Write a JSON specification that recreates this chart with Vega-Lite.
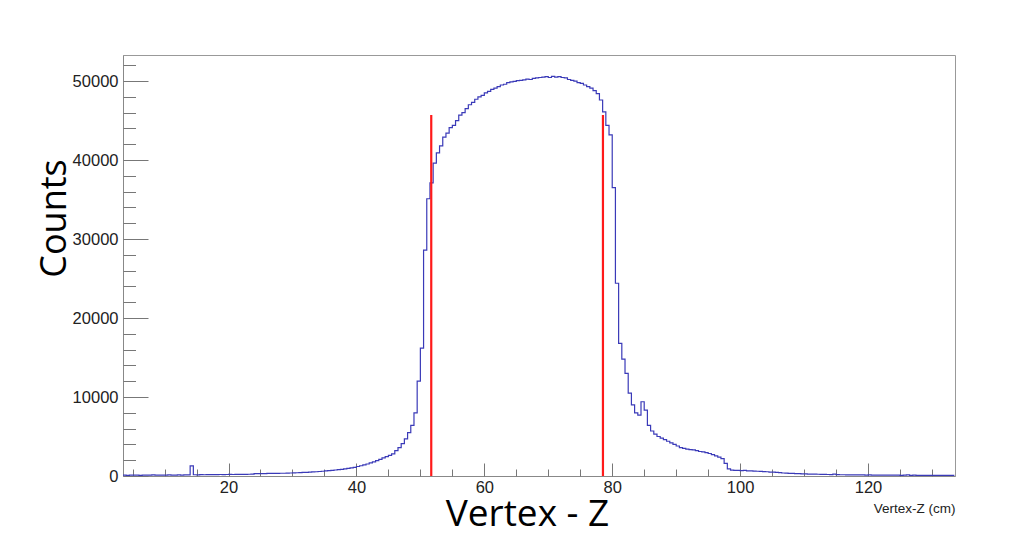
{
  "$schema": "https://vega.github.io/schema/vega-lite/v6.json",
  "width": 832,
  "height": 421,
  "autosize": {"type": "none"},
  "padding": {"left": 123, "top": 55, "right": 74, "bottom": 71},
  "background": "#ffffff",
  "config": {
    "view": {"stroke": "#999999", "strokeWidth": 1},
    "axis": {"grid": false, "tickColor": "#777777", "tickWidth": 1, "domainColor": "#888888", "labelFont": "Liberation Sans", "labelColor": "#222222"}
  },
  "datasets": {
    "hist": [
      {"z":3.5,"n":110},{"z":4.0,"n":90},{"z":4.5,"n":120},{"z":5.0,"n":100},{"z":5.5,"n":110},{"z":6.0,"n":90},{"z":6.5,"n":120},{"z":7.0,"n":100},{"z":7.5,"n":110},{"z":8.0,"n":130},{"z":8.5,"n":100},{"z":9.0,"n":110},{"z":9.5,"n":120},{"z":10.0,"n":100},{"z":10.5,"n":130},{"z":11.0,"n":110},{"z":11.5,"n":120},{"z":12.0,"n":140},{"z":12.5,"n":120},{"z":13.0,"n":130},{"z":13.5,"n":150},{"z":14.0,"n":1280},{"z":14.5,"n":160},{"z":15.0,"n":150},{"z":15.5,"n":170},{"z":16.0,"n":160},{"z":16.5,"n":170},{"z":17.0,"n":180},{"z":17.5,"n":170},{"z":18.0,"n":180},{"z":18.5,"n":190},{"z":19.0,"n":180},{"z":19.5,"n":190},{"z":20.0,"n":200},{"z":20.5,"n":190},{"z":21.0,"n":200},{"z":21.5,"n":210},{"z":22.0,"n":200},{"z":22.5,"n":210},{"z":23.0,"n":220},{"z":23.5,"n":230},{"z":24.0,"n":290},{"z":24.5,"n":300},{"z":25.0,"n":300},{"z":25.5,"n":310},{"z":26.0,"n":320},{"z":26.5,"n":320},{"z":27.0,"n":330},{"z":27.5,"n":340},{"z":28.0,"n":350},{"z":28.5,"n":350},{"z":29.0,"n":360},{"z":29.5,"n":380},{"z":30.0,"n":400},{"z":30.5,"n":410},{"z":31.0,"n":430},{"z":31.5,"n":450},{"z":32.0,"n":470},{"z":32.5,"n":490},{"z":33.0,"n":520},{"z":33.5,"n":540},{"z":34.0,"n":570},{"z":34.5,"n":600},{"z":35.0,"n":640},{"z":35.5,"n":680},{"z":36.0,"n":720},{"z":36.5,"n":760},{"z":37.0,"n":800},{"z":37.5,"n":850},{"z":38.0,"n":900},{"z":38.5,"n":960},{"z":39.0,"n":1030},{"z":39.5,"n":1100},{"z":40.0,"n":1200},{"z":40.5,"n":1300},{"z":41.0,"n":1400},{"z":41.5,"n":1520},{"z":42.0,"n":1650},{"z":42.5,"n":1800},{"z":43.0,"n":1950},{"z":43.5,"n":2100},{"z":44.0,"n":2300},{"z":44.5,"n":2450},{"z":45.0,"n":2600},{"z":45.5,"n":2800},{"z":46.0,"n":3200},{"z":46.5,"n":3600},{"z":47.0,"n":4100},{"z":47.5,"n":4700},{"z":48.0,"n":5500},{"z":48.5,"n":6400},{"z":49.0,"n":8000},{"z":49.5,"n":12000},{"z":50.0,"n":16200},{"z":50.5,"n":28600},{"z":51.0,"n":35100},{"z":51.5,"n":37100},{"z":52.0,"n":39600},{"z":52.5,"n":40900},{"z":53.0,"n":41800},{"z":53.5,"n":42900},{"z":54.0,"n":43400},{"z":54.5,"n":44100},{"z":55.0,"n":44400},{"z":55.5,"n":45000},{"z":56.0,"n":45700},{"z":56.5,"n":46000},{"z":57.0,"n":46500},{"z":57.5,"n":47000},{"z":58.0,"n":47300},{"z":58.5,"n":47700},{"z":59.0,"n":48000},{"z":59.5,"n":48200},{"z":60.0,"n":48500},{"z":60.5,"n":48700},{"z":61.0,"n":48950},{"z":61.5,"n":49100},{"z":62.0,"n":49300},{"z":62.5,"n":49500},{"z":63.0,"n":49600},{"z":63.5,"n":49800},{"z":64.0,"n":49900},{"z":64.5,"n":49950},{"z":65.0,"n":50050},{"z":65.5,"n":50100},{"z":66.0,"n":50150},{"z":66.5,"n":50250},{"z":67.0,"n":50200},{"z":67.5,"n":50350},{"z":68.0,"n":50400},{"z":68.5,"n":50450},{"z":69.0,"n":50500},{"z":69.5,"n":50550},{"z":70.0,"n":50450},{"z":70.5,"n":50600},{"z":71.0,"n":50500},{"z":71.5,"n":50550},{"z":72.0,"n":50450},{"z":72.5,"n":50400},{"z":73.0,"n":50200},{"z":73.5,"n":50100},{"z":74.0,"n":50000},{"z":74.5,"n":49800},{"z":75.0,"n":49700},{"z":75.5,"n":49500},{"z":76.0,"n":49300},{"z":76.5,"n":49100},{"z":77.0,"n":48800},{"z":77.5,"n":48400},{"z":78.0,"n":47600},{"z":78.5,"n":46100},{"z":79.0,"n":44400},{"z":79.5,"n":43200},{"z":80.0,"n":36500},{"z":80.5,"n":24400},{"z":81.0,"n":16800},{"z":81.5,"n":14800},{"z":82.0,"n":13000},{"z":82.5,"n":10500},{"z":83.0,"n":9000},{"z":83.5,"n":8000},{"z":84.0,"n":7700},{"z":84.5,"n":9400},{"z":85.0,"n":8350},{"z":85.5,"n":6400},{"z":86.0,"n":5700},{"z":86.5,"n":5300},{"z":87.0,"n":5000},{"z":87.5,"n":4800},{"z":88.0,"n":4600},{"z":88.5,"n":4400},{"z":89.0,"n":4200},{"z":89.5,"n":4000},{"z":90.0,"n":3800},{"z":90.5,"n":3600},{"z":91.0,"n":3500},{"z":91.5,"n":3400},{"z":92.0,"n":3350},{"z":92.5,"n":3300},{"z":93.0,"n":3200},{"z":93.5,"n":3100},{"z":94.0,"n":3050},{"z":94.5,"n":2950},{"z":95.0,"n":2850},{"z":95.5,"n":2700},{"z":96.0,"n":2550},{"z":96.5,"n":2400},{"z":97.0,"n":2200},{"z":97.5,"n":1600},{"z":98.0,"n":900},{"z":98.5,"n":750},{"z":99.0,"n":720},{"z":99.5,"n":700},{"z":100.0,"n":680},{"z":100.5,"n":700},{"z":101.0,"n":660},{"z":101.5,"n":650},{"z":102.0,"n":620},{"z":102.5,"n":600},{"z":103.0,"n":580},{"z":103.5,"n":560},{"z":104.0,"n":540},{"z":104.5,"n":500},{"z":105.0,"n":480},{"z":105.5,"n":450},{"z":106.0,"n":420},{"z":106.5,"n":380},{"z":107.0,"n":360},{"z":107.5,"n":340},{"z":108.0,"n":320},{"z":108.5,"n":300},{"z":109.0,"n":290},{"z":109.5,"n":270},{"z":110.0,"n":260},{"z":110.5,"n":250},{"z":111.0,"n":240},{"z":111.5,"n":230},{"z":112.0,"n":220},{"z":112.5,"n":210},{"z":113.0,"n":200},{"z":113.5,"n":190},{"z":114.0,"n":180},{"z":114.5,"n":250},{"z":115.0,"n":170},{"z":115.5,"n":160},{"z":116.0,"n":160},{"z":116.5,"n":150},{"z":117.0,"n":150},{"z":117.5,"n":140},{"z":118.0,"n":140},{"z":118.5,"n":130},{"z":119.0,"n":130},{"z":119.5,"n":120},{"z":120.0,"n":130},{"z":120.5,"n":120},{"z":121.0,"n":110},{"z":121.5,"n":120},{"z":122.0,"n":110},{"z":122.5,"n":100},{"z":123.0,"n":110},{"z":123.5,"n":100},{"z":124.0,"n":100},{"z":124.5,"n":110},{"z":125.0,"n":90},{"z":125.5,"n":100},{"z":126.0,"n":150},{"z":126.5,"n":90},{"z":127.0,"n":100},{"z":127.5,"n":90},{"z":128.0,"n":80},{"z":128.5,"n":90},{"z":129.0,"n":80},{"z":129.5,"n":90},{"z":130.0,"n":80},{"z":130.5,"n":70},{"z":131.0,"n":80},{"z":131.5,"n":70},{"z":132.0,"n":80},{"z":132.5,"n":70},{"z":133.0,"n":70},{"z":133.5,"n":70}
    ],
    "cuts": [{"z": 51.7, "top": 45700}, {"z": 78.55, "top": 45700}]
  },
  "layer": [
    {
      "data": {"name": "hist"},
      "mark": {"type": "line", "interpolate": "step-after", "color": "#3a3ab8", "strokeWidth": 1.2, "clip": true},
      "encoding": {
        "x": {
          "field": "z", "type": "quantitative",
          "scale": {"domain": [3.5, 133.6], "nice": false, "zero": false},
          "axis": {
            "orient": "bottom", "values": [20, 40, 60, 80, 100, 120], "format": "d", "ticks": false, "labelPadding": 3, "labelFontSize": 16.5,
            "title": "Vertex-Z (cm)", "titleFont": "Liberation Sans", "titleFontSize": 13.5, "titleFontWeight": "normal", "titleColor": "#222222",
            "titleX": 832, "titleAlign": "right", "titleY": 36.5, "titleBaseline": "alphabetic"
          }
        },
        "y": {
          "field": "n", "type": "quantitative",
          "scale": {"domain": [0, 53300], "nice": false},
          "axis": {
            "orient": "left", "values": [0, 10000, 20000, 30000, 40000, 50000], "format": "d", "ticks": false, "labelPadding": 5, "labelFontSize": 16.5,
            "labelBaseline": "middle",
            "title": "Counts", "titleFont": "Open Sans", "titleFontSize": 36, "titleFontWeight": "normal", "titleColor": "#000000",
            "titleAngle": 270, "titleX": -58, "titleY": 163, "titleAlign": "center", "titleBaseline": "alphabetic"
          }
        }
      }
    },
    {
      "data": {"name": "cuts"},
      "mark": {"type": "rule", "color": "#ff1a1a", "strokeWidth": 2.2},
      "encoding": {
        "x": {
          "field": "z", "type": "quantitative",
          "axis": {
            "orient": "bottom", "values": [20, 40, 60, 80, 100, 120], "tickSize": -13, "labels": false, "domain": false,
            "title": "Vertex - Z", "titleFont": "Open Sans", "titleFontSize": 37, "titleFontWeight": "normal", "titleColor": "#000000",
            "titleX": 404, "titleAlign": "center", "titleY": 49, "titleBaseline": "alphabetic"
          }
        },
        "y": {
          "field": "top", "type": "quantitative",
          "axis": {"orient": "left", "values": [0, 10000, 20000, 30000, 40000, 50000], "tickSize": -25, "labels": false, "domain": false, "title": null}
        },
        "y2": {"datum": 0}
      }
    },
    {
      "data": {"name": "cuts"},
      "mark": {"type": "point", "opacity": 0},
      "encoding": {
        "x": {
          "field": "z", "type": "quantitative",
          "axis": {"orient": "bottom", "values": [5, 10, 15, 25, 30, 35, 45, 50, 55, 65, 70, 75, 85, 90, 95, 105, 110, 115, 125, 130], "tickSize": -7, "labels": false, "domain": false, "title": null}
        },
        "y": {
          "field": "top", "type": "quantitative",
          "axis": {"orient": "left", "values": [2000, 4000, 6000, 8000, 12000, 14000, 16000, 18000, 22000, 24000, 26000, 28000, 32000, 34000, 36000, 38000, 42000, 44000, 46000, 48000, 52000], "tickSize": -12.5, "labels": false, "domain": false, "title": null}
        }
      }
    }
  ],
  "resolve": {"axis": {"x": "independent", "y": "independent"}}
}
